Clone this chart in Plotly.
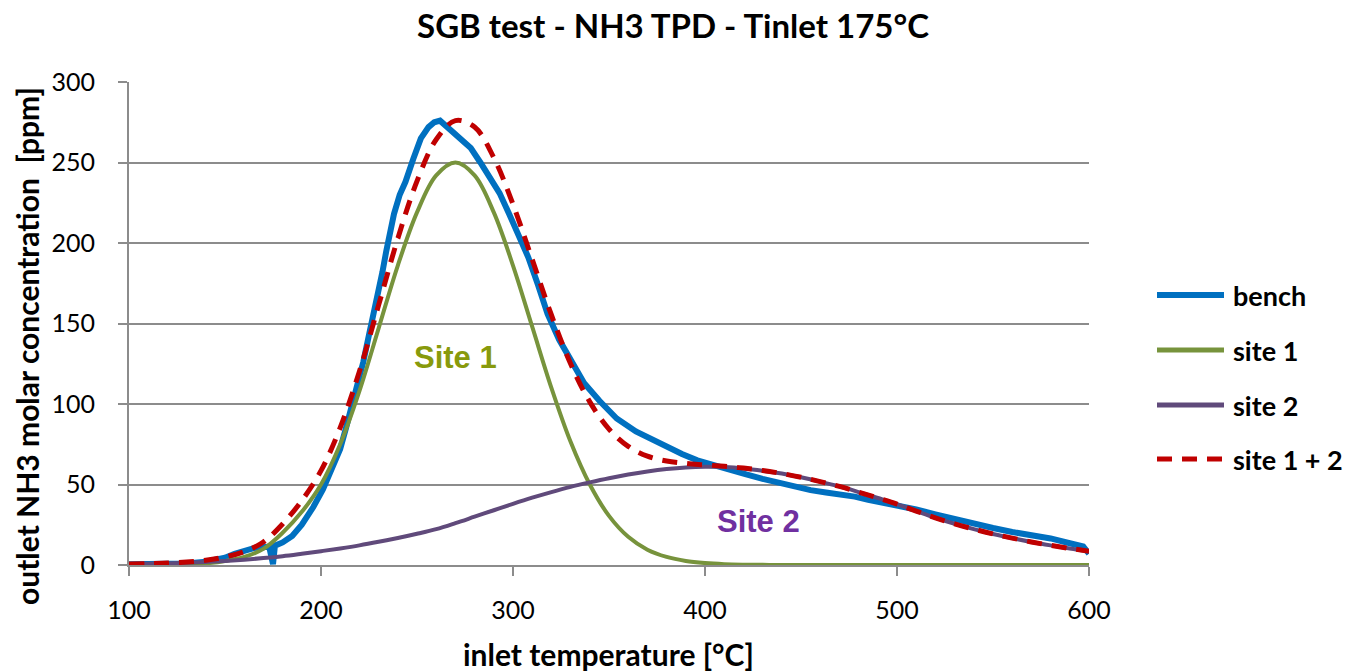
import plotly.graph_objects as go

# ---- measured bench data: inlet temperature [°C] vs outlet NH3 [ppm] ----
bench_temp = [100, 110, 120, 130, 140, 150, 155, 160, 165, 170, 173, 175, 176,
              180, 185, 190, 196, 201, 205, 210, 213, 216, 219, 222, 225, 229,
              232, 234, 238, 241, 244, 248, 252, 256, 259, 262, 265, 268, 271,
              275, 278, 283, 288, 293, 298, 303, 308, 313, 318, 324, 330, 337,
              345, 354, 364, 372, 380, 388, 396, 404, 412, 421, 430, 438, 446,
              455, 463, 470, 478, 485, 492, 500, 510, 520, 530, 540, 550, 560,
              570, 580, 590, 597, 600]
bench_ppm = [0.5, 0.5, 0.7, 1.0, 2.0, 4.5, 7.0, 9.0, 10.5, 11.0, 11.5, 0.5, 12.0,
             14.0, 18.0, 25.0, 36.0, 47.0, 58.0, 72.0, 85.0, 98.0, 111.0, 126.0, 143.0, 163.0,
             182.0, 195.0, 218.0, 230.0, 238.0, 252.0, 265.0, 272.0, 275.0, 276.0, 273.0, 269.0, 266.0,
             262.0, 259.0, 250.0, 241.0, 231.0, 218.0, 205.0, 191.0, 174.0, 156.0, 140.0, 127.0, 113.0,
             102.0, 91.0, 83.0, 78.0, 74.0, 69.0, 65.0, 62.0, 59.0, 56.5, 53.5, 51.0, 48.5,
             46.5, 45.0, 44.0, 42.5, 40.5, 39.0, 37.5, 34.5, 31.5, 28.5, 25.5, 23.0, 20.5,
             18.5, 16.5, 13.5, 11.5, 7.0]

# ---- fitted desorption sites on a 10 °C grid ----
model_temp = [100, 110, 120, 130, 140, 150, 160, 170, 180, 190,
              200, 210, 220, 230, 240, 250, 260, 270, 280, 290,
              300, 310, 320, 330, 340, 350, 360, 370, 380, 390,
              400, 410, 420, 430, 440, 450, 460, 470, 480, 490,
              500, 510, 520, 530, 540, 550, 560, 570, 580, 590, 600]
site1_ppm = [0.0, 0.1, 0.2, 0.4, 1.0, 2.5, 5.0, 10.0, 20.0, 33.0,
             50.0, 75.0, 108.0, 147.0, 186.0, 219.0, 242.0, 250.0, 242.0, 219.0,
             186.0, 148.0, 110.0, 76.5, 50.0, 30.5, 17.5, 9.5, 5.0, 2.5,
             1.2, 0.5, 0.2, 0.1, 0.0, 0.0, 0.0, 0.0, 0.0, 0.0,
             0.0, 0.0, 0.0, 0.0, 0.0, 0.0, 0.0, 0.0, 0.0, 0.0, 0.0]
site2_ppm = [0.6, 0.8, 1.0, 1.4, 1.9, 2.5, 3.3, 4.3, 5.5, 7.0,
             8.6, 10.3, 12.2, 14.4, 16.8, 19.4, 22.3, 26.0, 30.0, 34.0,
             38.0, 41.8, 45.3, 48.5, 51.3, 53.9, 56.2, 58.1, 59.6, 60.6,
             61.0, 60.8, 60.0, 58.6, 56.8, 54.5, 51.8, 48.8, 45.3, 41.6,
             37.8, 33.5, 29.3, 25.6, 22.3, 19.3, 16.7, 14.3, 12.2, 10.3, 8.6]
site12_ppm = [0.6, 0.9, 1.2, 1.8, 2.9, 5.0, 8.3, 14.3, 25.5, 40.0,
              58.6, 85.3, 120.2, 161.4, 202.8, 238.4, 264.3, 276.0, 272.0, 253.0,
              224.0, 189.8, 155.3, 125.0, 101.3, 84.4, 73.7, 67.6, 64.6, 63.1,
              62.2, 61.3, 60.2, 58.7, 56.8, 54.5, 51.8, 48.8, 45.3, 41.6,
              37.8, 33.5, 29.3, 25.6, 22.3, 19.3, 16.7, 14.3, 12.2, 10.3, 8.6]

x_ticks = [100, 200, 300, 400, 500, 600]
y_ticks = [0, 50, 100, 150, 200, 250, 300]

series_names = ["bench", "site 1", "site 2", "site 1 + 2"]
BLUE, GREEN, PURPLE, RED = "#0070C0", "#77933C", "#604A7B", "#C00000"
DASH = "15px,10px"
GRID = "#8C8C8C"
FONT = "Lato, 'Open Sans', sans-serif"

fig = go.Figure()
fig.add_trace(go.Scatter(x=bench_temp, y=bench_ppm, mode="lines",
                         line=dict(color=BLUE, width=6), name=series_names[0]))
fig.add_trace(go.Scatter(x=model_temp, y=site1_ppm, mode="lines",
                         line=dict(color=GREEN, width=4, shape="spline"),
                         name=series_names[1]))
fig.add_trace(go.Scatter(x=model_temp, y=site2_ppm, mode="lines",
                         line=dict(color=PURPLE, width=4, shape="spline"),
                         name=series_names[2]))
fig.add_trace(go.Scatter(x=model_temp, y=site12_ppm, mode="lines",
                         line=dict(color=RED, width=5, dash=DASH, shape="spline"),
                         name=series_names[3]))

# plot area geometry (pixels) used for placing legend and titles in paper units
L, R, T, B = 129, 265, 82, 106
W, H = 1354, 671
pw, ph = W - L - R, H - T - B


def px_x(px):
    return (px - L) / pw


def px_y(py):
    return (H - B - py) / ph


# hand-drawn legend on the right
legend_rows = [295, 350, 405, 459]
legend_colors = [BLUE, GREEN, PURPLE, RED]
legend_widths = [6, 5, 5, 5]
legend_dash = [None, None, None, DASH]
shapes = []
annotations = []
for name, row, col, lw, dsh in zip(series_names, legend_rows, legend_colors,
                                   legend_widths, legend_dash):
    line = dict(color=col, width=lw)
    if dsh:
        line["dash"] = dsh
    shapes.append(dict(type="line", xref="paper", yref="paper",
                       x0=px_x(1157), x1=px_x(1224), y0=px_y(row), y1=px_y(row),
                       line=line))
    annotations.append(dict(text="<b>%s</b>" % name, xref="paper", yref="paper",
                            x=px_x(1231), y=px_y(row), xanchor="left",
                            yanchor="middle", showarrow=False,
                            font=dict(family=FONT, size=27, color="#000000")))

# site labels inside the plot
annotations.append(dict(text="<b>Site 1</b>", x=270, y=129, xref="x", yref="y",
                        showarrow=False,
                        font=dict(family="'Liberation Sans', Arial, sans-serif",
                                  size=31, color="#889A0C")))
annotations.append(dict(text="<b>Site 2</b>", x=428, y=27, xref="x", yref="y",
                        showarrow=False,
                        font=dict(family="'Liberation Sans', Arial, sans-serif",
                                  size=31, color="#7030A0")))

# axis titles
annotations.append(dict(text="<b>inlet temperature [°C]</b>", xref="paper",
                        yref="paper", x=px_x(608), y=px_y(654), showarrow=False,
                        xanchor="center", yanchor="middle",
                        font=dict(family=FONT, size=30, color="#000000")))
annotations.append(dict(text="<b>outlet NH3 molar concentration \u00a0[ppm]</b>",
                        xref="paper", yref="paper", x=px_x(27), y=px_y(346),
                        textangle=-90, showarrow=False,
                        xanchor="center", yanchor="middle",
                        font=dict(family=FONT, size=30, color="#000000")))

fig.update_layout(
    width=W, height=H,
    margin=dict(l=L, r=R, t=T, b=B, pad=0),
    paper_bgcolor="white", plot_bgcolor="white",
    showlegend=False,
    title=dict(text="<b>SGB test - NH3 TPD - Tinlet 175°C</b>",
               x=673 / W, y=1 - 26 / H, xref="container", yref="container",
               xanchor="center", yanchor="middle",
               font=dict(family=FONT, size=33, color="#000000")),
    shapes=shapes,
    annotations=annotations,
)
fig.update_xaxes(range=[100, 600], tickvals=x_ticks,
                 ticktext=[str(v) for v in x_ticks],
                 showgrid=False, zeroline=False,
                 showline=True, linecolor=GRID, linewidth=2,
                 ticks="outside", ticklen=9, tickwidth=2, tickcolor=GRID,
                 ticklabelstandoff=13,
                 tickfont=dict(family=FONT, size=25, color="#000000"))
fig.update_yaxes(range=[0, 300], tickvals=y_ticks,
                 ticktext=[str(v) for v in y_ticks],
                 showgrid=True, gridcolor=GRID, gridwidth=2, zeroline=False,
                 showline=True, linecolor=GRID, linewidth=2,
                 ticks="outside", ticklen=9, tickwidth=2, tickcolor=GRID,
                 ticklabelstandoff=18,
                 tickfont=dict(family=FONT, size=25, color="#000000"))

fig.write_html("out.html")
